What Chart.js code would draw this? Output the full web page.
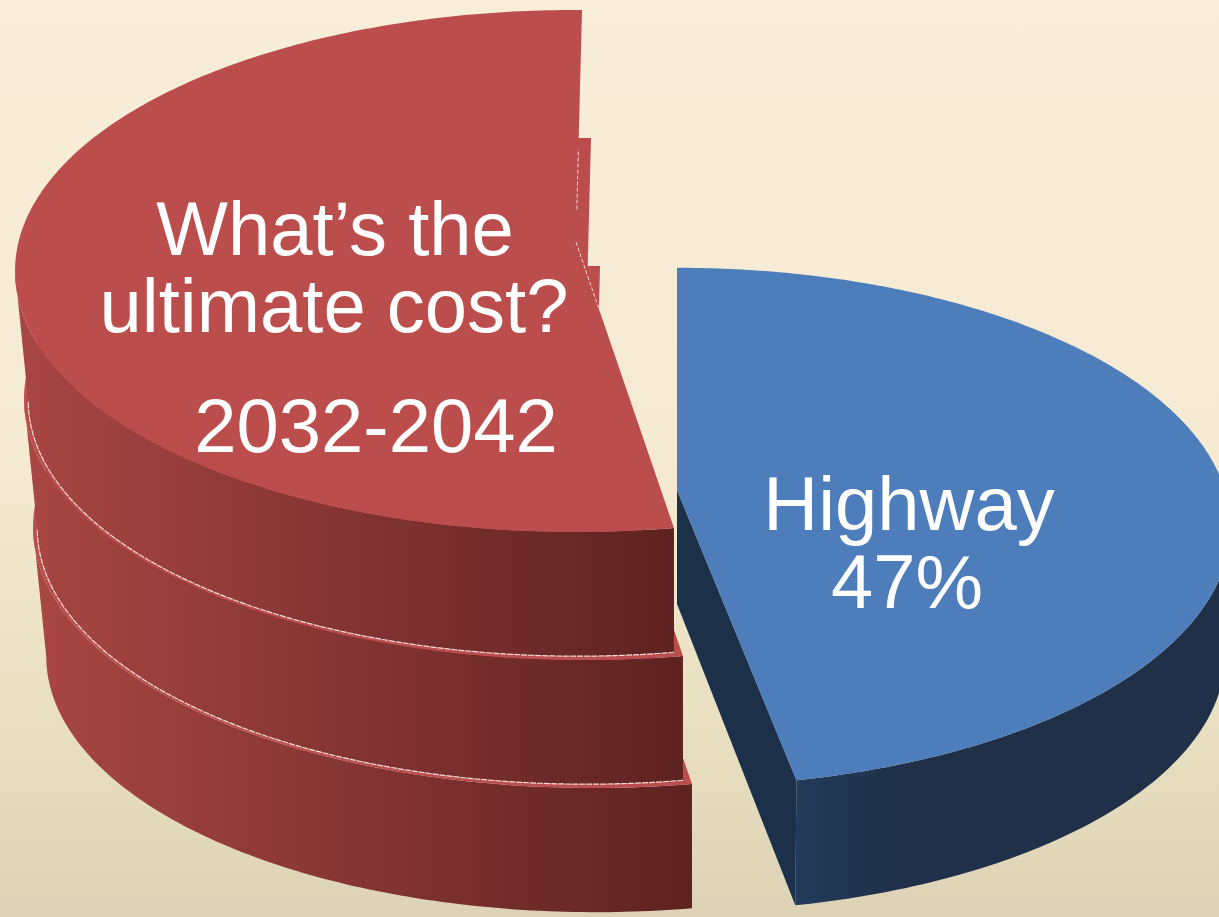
<!DOCTYPE html>
<html><head><meta charset="utf-8">
<style>
html,body{margin:0;padding:0;width:1219px;height:917px;overflow:hidden;background:linear-gradient(180deg,#f8edd8 0%,#f5ebd3 48%,#e9e0c2 78%,#ddd2b5 100%);}
#wrap{position:absolute;left:0;top:0;width:1219px;height:917px;}
</style>
<script src="https://cdn.jsdelivr.net/npm/chart.js@4"></script>
</head><body><div id="wrap"><canvas id="c" width="1219" height="917"></canvas></div>
<script>
const categories = ['Highway', 'Ultimate cost'];
const shares = [47, 53];
const sliceColors = ['#4d7dba', '#bb4e4c'];
const highwayLabel = ['Highway', '47%'];
const costLabel = ['What\u2019s the', 'ultimate cost?'];
const periodLabel = ['2032-2042'];

// Drawn-view settings for each slice: where its pie sits, its perspective, and its stacked layers.
const views = [
  {cx:677, cy:490, rx:548, k:254, p:0.143, layers:1, h:128, step:[0,0], trim:[0,0], shift:0, shrink:0.01, cut:0.89,
   wall:['#223b5a','#1f3048'], wallX:[795,905], edge:'#1c304a'},
  {cx:576, cy:242, rx:557.5, k:257.8, p:0.111, layers:3, h:130, step:[9,128], trim:[0.0314,0.012], shift:2, shrink:0.02, cut:1,
   wall:['#a84644','#5c2120'], wallX:[20,690], edge:'#5c2120'}
];

function project(v, a, ox, oy, f){
  const c = Math.cos(a), s = Math.sin(a), w = 1 - v.p*s;
  return [v.cx + ox + f*v.rx*c/w, v.cy + oy + f*v.k*s/w];
}
function arcPts(v, a0, a1, ox, oy, f, frontOnly){
  const n = 240, pts = [];
  for(let i=0;i<=n;i++){
    const a = a0+(a1-a0)*i/n;
    if(frontOnly && Math.sin(a) < v.p) continue;
    pts.push(project(v, a, ox, oy, f));
  }
  return pts;
}
function poly(ctx, pts){
  ctx.beginPath();
  pts.forEach((p,i)=> i?ctx.lineTo(p[0],p[1]):ctx.moveTo(p[0],p[1]));
  ctx.closePath();
}
function line(ctx, pts){
  ctx.beginPath();
  pts.forEach((p,i)=> i?ctx.lineTo(p[0],p[1]):ctx.moveTo(p[0],p[1]));
  ctx.stroke();
}
function along(a, b, t){ return [a[0]+(b[0]-a[0])*t, a[1]+(b[1]-a[1])*t]; }

const pie3d = {
  id:'pie3d',
  beforeDatasetDraw(chart, args){
    const ctx = chart.ctx, arcs = args.meta.data;
    ctx.save();
    arcs.forEach((arc,i)=>{
      const v = views[i];
      const col = arc.options.backgroundColor;
      const a0 = arc.startAngle + v.trim[0], a1 = arc.endAngle + v.trim[1];
      const f = 1 - v.shrink;
      for(let L=v.layers-1; L>=0; L--){
        const ox = v.step[0]*L, oy = v.step[1]*L;
        const top = arcPts(v, a0, a1, ox, oy, 1);
        const wallTop = arcPts(v, a0, a1, ox, oy, 1, true);
        const wallBot = arcPts(v, a0, a1, ox+v.shift, oy+v.h, f, true);
        const apex = [v.cx+ox, v.cy+oy];
        if(v.layers===1){
          // the cut face that turns toward the viewer
          const cornerT = project(v, a1, ox, oy, 1), cornerB = project(v, a1, ox+v.shift, oy+v.h, f);
          const apexB = [apex[0], apex[1]+v.h*v.cut];
          ctx.fillStyle = v.edge;
          poly(ctx,[apex,cornerT,cornerB,apexB]); ctx.fill();
        }
        // outer wall
        const g = ctx.createLinearGradient(v.wallX[0]+ox, 0, v.wallX[1]+ox, 0);
        g.addColorStop(0, v.wall[0]); g.addColorStop(1, v.wall[1]);
        ctx.fillStyle = g;
        poly(ctx, wallTop.concat(wallBot.slice().reverse())); ctx.fill();
        // hairline where this layer meets the one below it
        if(L < v.layers-1){
          ctx.strokeStyle = '#f4ded6'; ctx.lineWidth = 1.2; ctx.setLineDash([6,1]);
          line(ctx, wallBot);
          ctx.setLineDash([]);
        }
        // top face
        poly(ctx, [apex].concat(top)); ctx.fillStyle = col; ctx.fill();
      }
      if(v.layers>1){
        const apex = [v.cx, v.cy];
        const front = project(v, a0, 0, 0, 1), back = project(v, a1, 0, 0, 1);
        ctx.strokeStyle = '#f2d5cc'; ctx.lineWidth = 1; ctx.setLineDash([4,2]);
        line(ctx, [apex, along(apex, front, 0.24)]);
        line(ctx, [along(apex, back, 0.14), along(apex, back, 0.4)]);
        ctx.setLineDash([]);
      }
    });
    ctx.restore();
    return false;
  },
  afterDatasetsDraw(chart){
    const ctx = chart.ctx;
    ctx.save();
    ctx.fillStyle = '#ffffff';
    ctx.textAlign = 'center'; ctx.textBaseline = 'alphabetic';
    ctx.font = '76px "Liberation Sans", Arial, sans-serif';
    ctx.fillText(costLabel[0], 335, 255);
    ctx.fillText(costLabel[1], 334, 332);
    ctx.fillText(periodLabel[0], 376, 452);
    ctx.fillText(highwayLabel[0], 909, 530);
    ctx.fillText(highwayLabel[1], 907, 608);
    ctx.restore();
  }
};

new Chart(document.getElementById('c'), {
  type:'pie',
  data:{labels:categories, datasets:[{data:shares, backgroundColor:sliceColors, borderWidth:0}]},
  options:{
    responsive:false, animation:false, rotation:0,
    plugins:{legend:{display:false}, tooltip:{enabled:false}, title:{display:false}}
  },
  plugins:[pie3d]
});
</script></body></html>
